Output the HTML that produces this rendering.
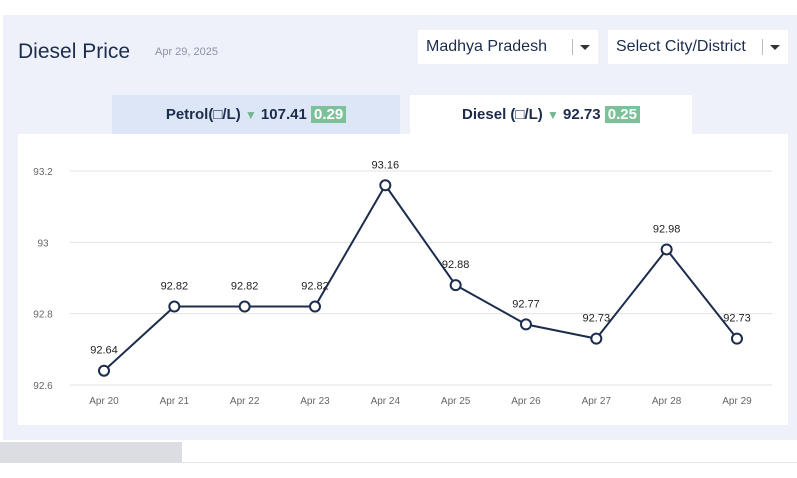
<!DOCTYPE html>
<html><head><meta charset="utf-8"><style>
body{margin:0;width:797px;height:478px;background:#fff;font-family:"Liberation Sans",sans-serif;position:relative;overflow:hidden}
.abs{position:absolute}
.panel{left:3px;top:15px;width:794px;height:425px;background:#eef1f9}
.title{left:18px;top:40px;font-size:21px;color:#1c2c4c}
.date{left:155px;top:46px;font-size:11px;color:#8a93a6}
.dd{top:30px;height:34px;background:#fff;font-size:16px;color:#1c2c4c;line-height:34px;box-sizing:border-box;padding-left:8px}
.sep{position:absolute;top:9px;width:1px;height:16px;background:#bbb}
.arr{position:absolute;top:15px;border-left:5px solid transparent;border-right:5px solid transparent;border-top:5px solid #333;width:0;height:0}
.tab{top:95px;height:39px;font-size:15px;font-weight:bold;color:#1c2c4c;line-height:39px;text-align:center}
.badge{background:#7cc19a;color:#fff;padding:0 3px;font-weight:bold}
.tri{color:#6fb58d;font-size:12px}
.card{left:18px;top:134px;width:770px;height:291px;background:#fff}
</style></head><body>
<div class="abs panel"></div>
<div class="abs title">Diesel Price</div>
<div class="abs date">Apr 29, 2025</div>
<div class="abs dd" style="left:418px;width:180px">Madhya Pradesh<span class="sep" style="left:154px"></span><span class="arr" style="left:162px"></span></div>
<div class="abs dd" style="left:608px;width:180px">Select City/District<span class="sep" style="left:154px"></span><span class="arr" style="left:162px"></span></div>
<div class="abs tab" style="left:112px;width:288px;background:#dde6f6">Petrol(□/L) <span class="tri">▼</span> 107.41 <span class="badge">0.29</span></div>
<div class="abs tab" style="left:410px;width:282px;background:#fff">Diesel (□/L) <span class="tri">▼</span> 92.73 <span class="badge">0.25</span></div>
<div class="abs card"></div>
<div class="abs" style="left:0;top:442px;width:182px;height:21px;background:#dcdde3"></div>
<div class="abs" style="left:182px;top:462px;width:615px;height:1px;background:#e2e4ea"></div>
<svg class="abs" style="left:0;top:0" width="797" height="478">
<g id="grid"></g><g id="series"></g>
</svg>
<script>
const categories=["Apr 20","Apr 21","Apr 22","Apr 23","Apr 24","Apr 25","Apr 26","Apr 27","Apr 28","Apr 29"];
const values=[92.64,92.82,92.82,92.82,93.16,92.88,92.77,92.73,92.98,92.73];
const yTicks=[92.6,92.8,93,93.2];
const ns="http://www.w3.org/2000/svg";
const x=i=>104+i*70.33;
const y=v=>385-(v-92.6)/0.6*214;
function mk(t,a,p){const e=document.createElementNS(ns,t);for(const k in a)e.setAttribute(k,a[k]);p.appendChild(e);return e;}
const grid=document.getElementById('grid'),ser=document.getElementById('series');
yTicks.forEach(t=>{
 const l=mk('line',{x1:70,x2:772,y1:y(t),y2:y(t),stroke:'#e3e3e3'},grid);
 
 
 const tx=mk('text',{x:43,y:y(t)+4,'text-anchor':'middle','font-size':10,fill:'#666','font-family':'Liberation Sans'},grid);
 tx.textContent=String(t);
 
 
});
categories.forEach((c,i)=>{
 const tx=mk('text',{x:x(i),y:404,'text-anchor':'middle','font-size':10,fill:'#666','font-family':'Liberation Sans'},grid);
 tx.textContent=c;
 
 
});
const pl=mk('polyline',{points:values.map((v,i)=>x(i)+','+y(v)).join(' '),fill:'none',stroke:'#1c2c4c','stroke-width':2},ser);


values.forEach((v,i)=>{
 const c=mk('circle',{cx:x(i),cy:y(v),r:5,fill:'#fff',stroke:'#1c2c4c','stroke-width':2},ser);
 
 
 const t=mk('text',{x:x(i),y:y(v)-17,'text-anchor':'middle','font-size':11,fill:'#222','font-family':'Liberation Sans'},ser);
 t.textContent=v.toFixed(2);
 
 
});
</script>
</body></html>
